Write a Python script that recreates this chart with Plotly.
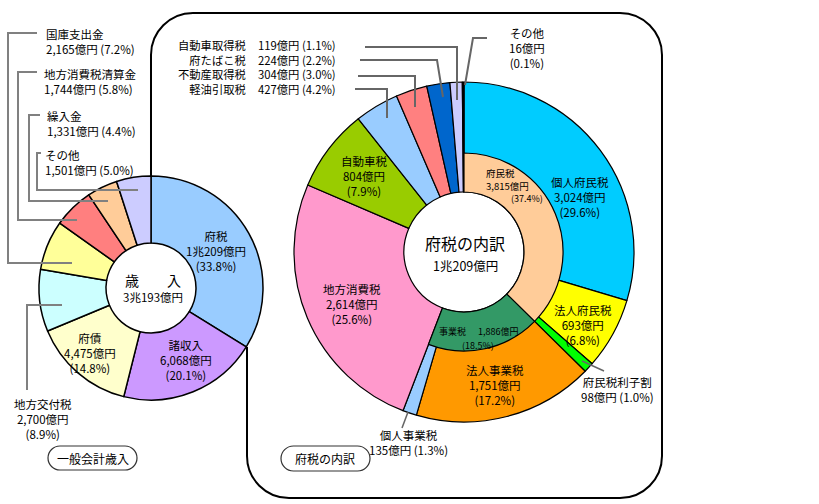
import plotly.graph_objects as go

W, H = 819, 504

# ---------------- data ----------------
left_labels = ["府税", "諸収入", "府債", "地方交付税", "国庫支出金", "地方消費税清算金", "繰入金", "その他"]
left_values = [10209, 6068, 4475, 2700, 2165, 1744, 1331, 1501]
left_pcts = [33.8, 20.1, 14.8, 8.9, 7.2, 5.8, 4.4, 5.0]

right_labels = ["個人府民税", "法人府民税", "府民税利子割", "法人事業税", "個人事業税", "地方消費税",
                "自動車税", "軽油引取税", "不動産取得税", "府たばこ税", "自動車取得税", "その他"]
right_values = [3024, 693, 98, 1751, 135, 2614, 804, 427, 304, 224, 119, 16]
right_pcts = [29.6, 6.8, 1.0, 17.2, 1.3, 25.6, 7.9, 4.2, 3.0, 2.2, 1.1, 0.1]

inner_labels = ["府民税", "事業税"]
inner_values = [3815, 1886]
inner_pcts = [37.4, 18.5]

left_title = "歳　　入"
right_title = "府税の内訳"
left_box = "一般会計歳入"
right_box = "府税の内訳"

# ---------------- styles ----------------
left_colors = ["#99CCFF", "#CC99FF", "#FFFFCC", "#CCFFFF", "#FFFF99", "#FF7F7F", "#FFCC99", "#CCCCFF"]
right_colors = ["#00CCFF", "#FFFF00", "#00FF00", "#FF9900", "#99CCFF", "#FF99CC",
                "#99CC00", "#99CCFF", "#FF8080", "#0066CC", "#CCCCFF", "#000000"]
inner_colors = ["#FFCC99", "#339966", "rgba(0,0,0,0)"]
FONT = "Noto Sans CJK JP"


def X(px):
    return px / W


def Y(py):
    return 1 - py / H


def oku(v):
    if v >= 10000:
        return f"{v // 10000}兆{v % 10000}億円"
    return f"{v:,}億円"


def pct(p):
    return f"({p:.1f}%)"


def dom(cx, cy, r):
    return dict(x=[X(cx - r), X(cx + r)], y=[Y(cy + r), Y(cy - r)])


fig = go.Figure()

# left donut
fig.add_trace(go.Pie(
    labels=left_labels, values=left_values, sort=False, direction="clockwise", rotation=0,
    hole=45 / 112, domain=dom(151, 288, 112),
    marker=dict(colors=left_colors, line=dict(color="black", width=1.5)),
    textinfo="none", hoverinfo="label+value", showlegend=False))

# right outer donut
fig.add_trace(go.Pie(
    labels=right_labels, values=right_values, sort=False, direction="clockwise", rotation=0,
    hole=60 / 170, domain=dom(464, 252, 170),
    marker=dict(colors=right_colors, line=dict(color="black", width=1.2)),
    textinfo="none", hoverinfo="label+value", showlegend=False))

# right inner ring
inner_rest = sum(right_values) - sum(inner_values)
fig.add_trace(go.Pie(
    labels=inner_labels + [" "], values=inner_values + [inner_rest], sort=False,
    direction="clockwise", rotation=0,
    hole=60 / 99, domain=dom(464, 252, 99),
    marker=dict(colors=inner_colors, line=dict(color="black", width=[1.2, 1.2, 0])),
    textinfo="none", hoverinfo="skip", showlegend=False))

ann = []


def add(text, x, y, size=11.5, xanchor="center", align="center"):
    ann.append(dict(text=text, x=X(x), y=Y(y), xref="paper", yref="paper", showarrow=False,
                    xanchor=xanchor, yanchor="middle", align=align,
                    font=dict(family=FONT, size=size, color="black")))


L = {n: (v, p) for n, v, p in zip(left_labels, left_values, left_pcts)}
R = {n: (v, p) for n, v, p in zip(right_labels, right_values, right_pcts)}
I = {n: (v, p) for n, v, p in zip(inner_labels, inner_values, inner_pcts)}

# left outside labels
for name, (x, y) in {"国庫支出金": (44, 41.5), "地方消費税清算金": (42, 81.5),
                     "繰入金": (45, 123.5), "その他": (43, 163)}.items():
    v, p = L[name]
    add(f"{name}<br>{oku(v)} {pct(p)}", x, y, xanchor="left", align="left")
v, p = L["地方交付税"]
add(f"地方交付税<br>{oku(v)}<br>{pct(p)}", 43, 419)
# left in-slice
for name, (x, y) in {"府税": (216, 251), "諸収入": (186, 360), "府債": (90, 353)}.items():
    v, p = L[name]
    add(f"{name}<br>{oku(v)}<br>{pct(p)}", x, y)
add(left_title, 153, 280, size=14)
add(oku(sum(left_values)), 153, 297, size=11.5)

# right in-slice
for name, (x, y) in {"個人府民税": (580, 197), "法人府民税": (583, 325), "法人事業税": (495, 385),
                     "地方消費税": (352, 304), "自動車税": (364, 176)}.items():
    v, p = R[name]
    add(f"{name}<br>{oku(v)}<br>{pct(p)}", x, y)
for name, (x, y) in {"府民税利子割": (617, 389.5), "個人事業税": (408, 442.5)}.items():
    v, p = R[name]
    add(f"{name}<br>{oku(v)} {pct(p)}", x, y)
v, p = R["その他"]
add(f"その他<br>{oku(v)}<br>{pct(p)}", 527, 48)

# list of small taxes (two columns)
list_names = ["自動車取得税", "府たばこ税", "不動産取得税", "軽油引取税"]
add("<br>".join(list_names), 248, 67, size=11.3, xanchor="right", align="right")
add("<br>".join(f"{oku(R[n][0])} {pct(R[n][1])}" for n in list_names), 256, 67,
    size=11.3, xanchor="left", align="left")

# inner ring labels
v, p = I["府民税"]
add("府民税", 500, 173, size=9.5)
add(oku(v), 507, 186, size=9.5)
add(pct(p), 527, 199, size=9)
v, p = I["事業税"]
add("事業税", 452, 331, size=9)
add(oku(v), 498, 331, size=9)
add(pct(p), 478, 345, size=9)

add(right_title, 465, 243, size=16)
add(oku(sum(right_values)), 465, 265, size=12.5)

add(left_box, 93, 458, size=12)
add(right_box, 325, 458, size=12)

# ---------------- shapes ----------------
shapes = []


def poly(points, color="#808080", width=2):
    d = "M " + " L ".join(f"{X(a):.5f},{Y(b):.5f}" for a, b in points)
    shapes.append(dict(type="path", path=d, xref="paper", yref="paper",
                       line=dict(color=color, width=width)))


# left leaders
poly([(37, 33), (8, 33), (8, 263), (72, 263)])
poly([(37, 72), (18, 72), (18, 220), (77, 220)])
poly([(40, 115), (29, 115), (29, 201), (108, 201)])
poly([(41, 153), (37, 153), (37, 190), (138, 190)])
poly([(62, 305), (27, 305), (27, 390)])
# right leaders
poly([(365, 47), (457, 47), (457, 100)], color="#666666")
poly([(360, 60), (437, 60), (443, 97)], color="#666666")
poly([(358, 76), (415, 76), (415, 107)], color="#666666")
poly([(355, 89), (387, 89), (387, 118)], color="#666666")
poly([(487, 38), (473, 38), (465, 85)], color="#666666")
poly([(582, 361), (604, 371)], color="#666666", width=1.5)
poly([(408, 412), (402, 428)], color="#666666", width=1.5)

K = 0.5523


def frame():
    r = 42
    k = r * K
    P = lambda a, b: f"{X(a):.5f},{Y(b):.5f}"
    d = (f"M {P(151,176)} L {P(151,13+r)} "
         f"C {P(151,13+r-k)} {P(151+r-k,13)} {P(151+r,13)} "
         f"L {P(662-r,13)} C {P(662-r+k,13)} {P(662,13+r-k)} {P(662,13+r)} "
         f"L {P(662,498-r)} C {P(662,498-r+k)} {P(662-r+k,498)} {P(662-r,498)} "
         f"L {P(247+r,498)} C {P(247+r-k,498)} {P(247,498-r+k)} {P(247,498-r)} "
         f"L {P(247,347)}")
    shapes.append(dict(type="path", path=d, xref="paper", yref="paper",
                       line=dict(color="black", width=2)))


frame()


def pill(x0, y0, x1, y1):
    r = (y1 - y0) / 2
    k = r * K
    P = lambda a, b: f"{X(a):.5f},{Y(b):.5f}"
    d = (f"M {P(x0+r,y0)} L {P(x1-r,y0)} "
         f"C {P(x1-r+k,y0)} {P(x1,y0+r-k)} {P(x1,y0+r)} "
         f"C {P(x1,y0+r+k)} {P(x1-r+k,y1)} {P(x1-r,y1)} "
         f"L {P(x0+r,y1)} C {P(x0+r-k,y1)} {P(x0,y0+r+k)} {P(x0,y0+r)} "
         f"C {P(x0,y0+r-k)} {P(x0+r-k,y0)} {P(x0+r,y0)} Z")
    shapes.append(dict(type="path", path=d, xref="paper", yref="paper",
                       line=dict(color="#333333", width=1.2)))


pill(48, 446, 137, 470)
pill(281, 446, 370, 471)

fig.update_layout(
    width=W, height=H, margin=dict(l=0, r=0, t=0, b=0),
    paper_bgcolor="white", plot_bgcolor="white",
    annotations=ann, shapes=shapes, showlegend=False,
    font=dict(family=FONT),
)

fig.write_html("out.html", config={"displayModeBar": False},
               post_script="document.body.style.margin='0';document.body.style.padding='0';")
